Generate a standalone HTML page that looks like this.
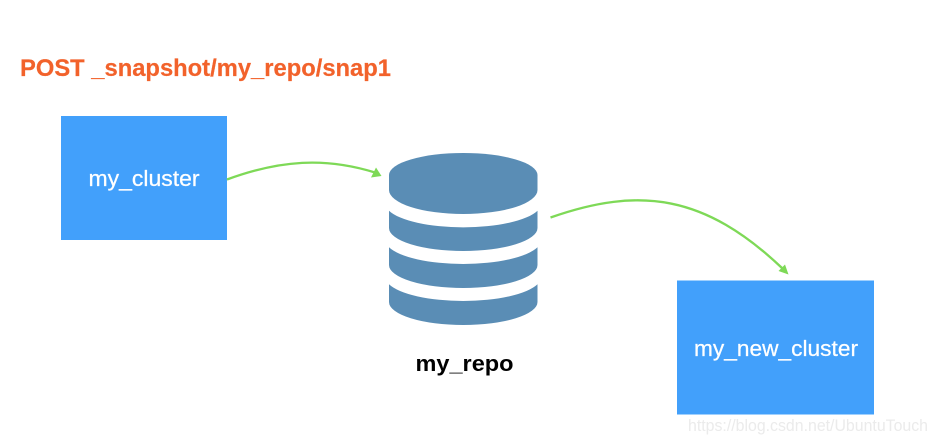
<!DOCTYPE html>
<html>
<head>
<meta charset="utf-8">
<style>
html,body{margin:0;padding:0;background:#fff;width:937px;height:444px;overflow:hidden}
svg{display:block}
text{font-family:"Liberation Sans",sans-serif}
</style>
</head>
<body>
<svg width="937" height="444" viewBox="0 0 937 444" xmlns="http://www.w3.org/2000/svg">
<rect width="937" height="444" fill="#fff"/>
<text x="20" y="76" font-size="24" font-weight="bold" fill="#f2622b" stroke="#f2622b" stroke-width="0.2" textLength="371" lengthAdjust="spacingAndGlyphs">POST _snapshot/my_repo/snap1</text>
<rect x="61" y="116" width="166" height="124" fill="#42a0fb"/>
<text x="144" y="186" font-size="22" fill="#fff" stroke="#fff" stroke-width="0.25" text-anchor="middle" textLength="111" lengthAdjust="spacingAndGlyphs">my_cluster</text>
<rect x="677" y="280.500" width="197" height="134" fill="#42a0fb"/>
<text x="776" y="356" font-size="22" fill="#fff" stroke="#fff" stroke-width="0.25" text-anchor="middle" textLength="164" lengthAdjust="spacingAndGlyphs">my_new_cluster</text>
<text x="464.500" y="371" font-size="22.500" font-weight="bold" fill="#000" text-anchor="middle" textLength="98" lengthAdjust="spacingAndGlyphs">my_repo</text>
<g fill="#5a8db5">
<path d="M389 175 A74.250 22 0 0 1 537.500 175 L537.500 190 A74.250 24 0 0 1 389 190 Z"/>
<path d="M389 210.700 A78 24 0 0 0 537.500 210.700 L537.500 228 A74.250 23 0 0 1 389 228 Z"/>
<path d="M389 247.300 A78 24 0 0 0 537.500 247.300 L537.500 265 A74.250 23 0 0 1 389 265 Z"/>
<path d="M389 284.300 A78 24 0 0 0 537.500 284.300 L537.500 302 A74.250 23 0 0 1 389 302 Z"/>
</g>
<g fill="none" stroke="#7ed957" stroke-width="2.300">
<path d="M227 179.500 C280 160 325 157 375 172.500"/>
<path d="M550.500 217.500 C640 186 705 195 782 268"/>
</g>
<g fill="#7ed957">
<path d="M381.500 176 L371 177.500 L376 167.500 Z"/>
<path d="M788.500 274.500 L778.500 271 L785 264.500 Z"/>
</g>
<text x="688" y="431" font-size="16.500" fill="#ebebeb" textLength="240" lengthAdjust="spacingAndGlyphs">https://blog.csdn.net/UbuntuTouch</text>
</svg>
</body>
</html>
